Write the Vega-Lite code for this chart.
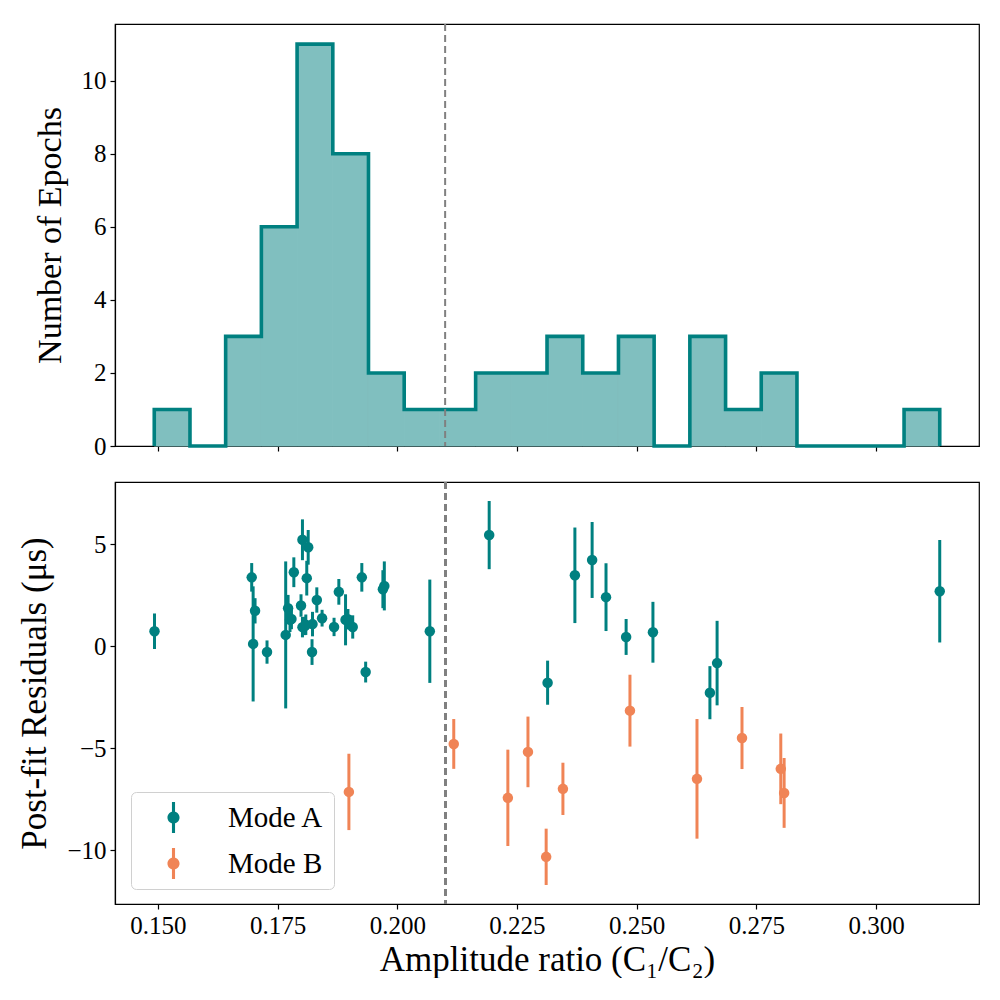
{
  "$schema": "https://vega.github.io/schema/vega-lite/v6.json",
  "padding": {"left": 17, "top": 22, "right": 0, "bottom": 0},
  "background": "white",
  "spacing": 20,
  "config": {
    "font": "Liberation Serif",
    "view": {"stroke": "black", "strokeWidth": 1.2},
    "axis": {
      "grid": false,
      "labelFont": "Liberation Serif", "labelFontSize": 25, "labelColor": "black",
      "titleFont": "Liberation Serif", "titleFontSize": 34, "titleFontWeight": "normal", "titleColor": "black",
      "tickColor": "black", "tickSize": 5, "tickWidth": 1.2,
      "domainColor": "black", "domainWidth": 1.2, "labelPadding": 4
    },
    "legend": {
      "orient": "none", "legendX": 16, "legendY": 768,
      "fillColor": "white", "strokeColor": "#d0d0d0", "cornerRadius": 5,
      "padding": 10, "rowPadding": 15, "symbolOffset": 17, "labelOffset": 39,
      "labelFont": "Liberation Serif", "labelFontSize": 29, "labelColor": "black",
      "symbolSize": 961, "symbolStrokeWidth": 0, "symbolOpacity": 1,
      "symbolType": "M-0.1,-1 L0.1,-1 L0.1,1 L-0.1,1 Z M0.39,0 A0.39,0.39 0 1 1 -0.39,0 A0.39,0.39 0 1 1 0.39,0 Z"
    }
  },
  "datasets": {
    "bins": [
      {"start": 0.14925, "end": 0.15671, "count": 1},
      {"start": 0.15671, "end": 0.16416, "count": 0},
      {"start": 0.16416, "end": 0.17162, "count": 3},
      {"start": 0.17162, "end": 0.17908, "count": 6},
      {"start": 0.17908, "end": 0.18654, "count": 11},
      {"start": 0.18654, "end": 0.19399, "count": 8},
      {"start": 0.19399, "end": 0.20145, "count": 2},
      {"start": 0.20145, "end": 0.20891, "count": 1},
      {"start": 0.20891, "end": 0.21637, "count": 1},
      {"start": 0.21637, "end": 0.22382, "count": 2},
      {"start": 0.22382, "end": 0.23128, "count": 2},
      {"start": 0.23128, "end": 0.23874, "count": 3},
      {"start": 0.23874, "end": 0.24620, "count": 2},
      {"start": 0.24620, "end": 0.25365, "count": 3},
      {"start": 0.25365, "end": 0.26111, "count": 0},
      {"start": 0.26111, "end": 0.26857, "count": 3},
      {"start": 0.26857, "end": 0.27602, "count": 1},
      {"start": 0.27602, "end": 0.28348, "count": 2},
      {"start": 0.28348, "end": 0.29094, "count": 0},
      {"start": 0.29094, "end": 0.29839, "count": 0},
      {"start": 0.29839, "end": 0.30585, "count": 0},
      {"start": 0.30585, "end": 0.31330, "count": 1}
    ],
    "outline": [
      {"i": 0, "edge": 0.14925, "count": 0},
      {"i": 1, "edge": 0.14925, "count": 1},
      {"i": 2, "edge": 0.15671, "count": 0},
      {"i": 3, "edge": 0.16416, "count": 3},
      {"i": 4, "edge": 0.17162, "count": 6},
      {"i": 5, "edge": 0.17908, "count": 11},
      {"i": 6, "edge": 0.18654, "count": 8},
      {"i": 7, "edge": 0.19399, "count": 2},
      {"i": 8, "edge": 0.20145, "count": 1},
      {"i": 9, "edge": 0.20891, "count": 1},
      {"i": 10, "edge": 0.21637, "count": 2},
      {"i": 11, "edge": 0.22382, "count": 2},
      {"i": 12, "edge": 0.23128, "count": 3},
      {"i": 13, "edge": 0.23874, "count": 2},
      {"i": 14, "edge": 0.24620, "count": 3},
      {"i": 15, "edge": 0.25365, "count": 0},
      {"i": 16, "edge": 0.26111, "count": 3},
      {"i": 17, "edge": 0.26857, "count": 1},
      {"i": 18, "edge": 0.27602, "count": 2},
      {"i": 19, "edge": 0.28348, "count": 0},
      {"i": 20, "edge": 0.29094, "count": 0},
      {"i": 21, "edge": 0.29839, "count": 0},
      {"i": 22, "edge": 0.30585, "count": 1},
      {"i": 23, "edge": 0.31330, "count": 1},
      {"i": 24, "edge": 0.31330, "count": 0}
    ],
    "epochs": [
      {"mode": "Mode A", "ratio": 0.1493, "resid": 0.73, "err": 0.87},
      {"mode": "Mode A", "ratio": 0.1696, "resid": 3.37, "err": 0.70},
      {"mode": "Mode A", "ratio": 0.1703, "resid": 1.73, "err": 0.62},
      {"mode": "Mode A", "ratio": 0.1699, "resid": 0.11, "err": 2.82},
      {"mode": "Mode A", "ratio": 0.1728, "resid": -0.29, "err": 0.57},
      {"mode": "Mode A", "ratio": 0.1767, "resid": 0.55, "err": 3.60},
      {"mode": "Mode A", "ratio": 0.1772, "resid": 1.86, "err": 0.65},
      {"mode": "Mode A", "ratio": 0.1776, "resid": 1.29, "err": 0.60},
      {"mode": "Mode A", "ratio": 0.1779, "resid": 1.33, "err": 0.50},
      {"mode": "Mode A", "ratio": 0.1784, "resid": 3.62, "err": 0.73},
      {"mode": "Mode A", "ratio": 0.1799, "resid": 1.99, "err": 0.55},
      {"mode": "Mode A", "ratio": 0.1802, "resid": 5.21, "err": 1.00},
      {"mode": "Mode A", "ratio": 0.1814, "resid": 4.84, "err": 0.85},
      {"mode": "Mode A", "ratio": 0.1811, "resid": 3.33, "err": 0.85},
      {"mode": "Mode A", "ratio": 0.1802, "resid": 0.93, "err": 0.50},
      {"mode": "Mode A", "ratio": 0.1807, "resid": 0.99, "err": 0.45},
      {"mode": "Mode A", "ratio": 0.1809, "resid": 1.05, "err": 0.50},
      {"mode": "Mode A", "ratio": 0.1823, "resid": 1.08, "err": 0.60},
      {"mode": "Mode A", "ratio": 0.1822, "resid": -0.29, "err": 0.63},
      {"mode": "Mode A", "ratio": 0.1832, "resid": 2.26, "err": 0.62},
      {"mode": "Mode A", "ratio": 0.1843, "resid": 1.37, "err": 0.41},
      {"mode": "Mode A", "ratio": 0.1868, "resid": 0.94, "err": 0.45},
      {"mode": "Mode A", "ratio": 0.1878, "resid": 2.66, "err": 0.63},
      {"mode": "Mode A", "ratio": 0.1892, "resid": 1.29, "err": 1.25},
      {"mode": "Mode A", "ratio": 0.1897, "resid": 1.32, "err": 0.50},
      {"mode": "Mode A", "ratio": 0.1907, "resid": 0.94, "err": 0.57},
      {"mode": "Mode A", "ratio": 0.1926, "resid": 3.37, "err": 0.70},
      {"mode": "Mode A", "ratio": 0.1934, "resid": -1.27, "err": 0.51},
      {"mode": "Mode A", "ratio": 0.1970, "resid": 2.79, "err": 0.93},
      {"mode": "Mode A", "ratio": 0.1973, "resid": 2.95, "err": 1.20},
      {"mode": "Mode A", "ratio": 0.2068, "resid": 0.73, "err": 2.53},
      {"mode": "Mode A", "ratio": 0.2192, "resid": 5.44, "err": 1.67},
      {"mode": "Mode A", "ratio": 0.2314, "resid": -1.79, "err": 1.08},
      {"mode": "Mode A", "ratio": 0.2371, "resid": 3.47, "err": 2.34},
      {"mode": "Mode A", "ratio": 0.2407, "resid": 4.22, "err": 1.86},
      {"mode": "Mode A", "ratio": 0.2436, "resid": 2.40, "err": 1.66},
      {"mode": "Mode A", "ratio": 0.2478, "resid": 0.45, "err": 0.88},
      {"mode": "Mode A", "ratio": 0.2534, "resid": 0.68, "err": 1.49},
      {"mode": "Mode A", "ratio": 0.2653, "resid": -2.28, "err": 1.30},
      {"mode": "Mode A", "ratio": 0.2668, "resid": -0.83, "err": 2.07},
      {"mode": "Mode A", "ratio": 0.3133, "resid": 2.69, "err": 2.51},
      {"mode": "Mode B", "ratio": 0.1899, "resid": -7.14, "err": 1.87},
      {"mode": "Mode B", "ratio": 0.2118, "resid": -4.79, "err": 1.22},
      {"mode": "Mode B", "ratio": 0.2231, "resid": -7.43, "err": 2.36},
      {"mode": "Mode B", "ratio": 0.2273, "resid": -5.18, "err": 1.73},
      {"mode": "Mode B", "ratio": 0.2311, "resid": -10.32, "err": 1.38},
      {"mode": "Mode B", "ratio": 0.2346, "resid": -6.99, "err": 1.28},
      {"mode": "Mode B", "ratio": 0.2486, "resid": -3.16, "err": 1.76},
      {"mode": "Mode B", "ratio": 0.2626, "resid": -6.50, "err": 2.93},
      {"mode": "Mode B", "ratio": 0.2720, "resid": -4.50, "err": 1.52},
      {"mode": "Mode B", "ratio": 0.2801, "resid": -6.01, "err": 1.73},
      {"mode": "Mode B", "ratio": 0.2808, "resid": -7.19, "err": 1.71}
    ]
  },
  "vconcat": [
    {
      "width": 864, "height": 422,
      "layer": [
        {
          "data": {"name": "bins"},
          "mark": {"type": "rect", "color": "#80bfbf", "stroke": "#80bfbf", "strokeWidth": 1},
          "encoding": {
            "x": {"field": "start", "type": "quantitative",
                  "scale": {"domain": [0.14105, 0.3215], "nice": false, "zero": false},
                  "axis": {"values": [0.15, 0.175, 0.2, 0.225, 0.25, 0.275, 0.3], "labels": false, "title": null}},
            "x2": {"field": "end"},
            "y": {"field": "count", "type": "quantitative",
                  "scale": {"domain": [0, 11.55], "nice": false},
                  "axis": {"values": [0, 2, 4, 6, 8, 10], "title": "Number of Epochs", "titlePadding": 14}},
            "y2": {"datum": 0}
          }
        },
        {
          "data": {"name": "outline"},
          "mark": {"type": "line", "interpolate": "step-after", "color": "#008080", "strokeWidth": 3.6, "strokeJoin": "miter"},
          "encoding": {
            "x": {"field": "edge", "type": "quantitative"},
            "y": {"field": "count", "type": "quantitative"},
            "order": {"field": "i", "type": "quantitative"}
          }
        },
        {
          "data": {"values": [{"split": 0.21}]},
          "mark": {"type": "rule", "color": "#808080", "strokeDash": [7, 4], "strokeWidth": 2},
          "encoding": {"x": {"field": "split", "type": "quantitative"}}
        }
      ]
    },
    {
      "width": 864, "height": 422,
      "data": {"name": "epochs"},
      "encoding": {
        "x": {"field": "ratio", "type": "quantitative",
              "scale": {"domain": [0.14105, 0.3215], "nice": false, "zero": false},
              "axis": {"values": [0.15, 0.175, 0.2, 0.225, 0.25, 0.275, 0.3], "format": ".3f", "title": "Amplitude ratio (C₁/C₂)", "titlePadding": 4, "titleFontSize": 35}},
        "y": {"field": "resid", "type": "quantitative",
              "scale": {"domain": [-12.63, 8.04], "nice": false, "zero": false},
              "axis": {"values": [-10, -5, 0, 5], "title": "Post-fit Residuals (μs)", "titlePadding": 14, "titleFontSize": 35}},
        "color": {"field": "mode", "type": "nominal",
                  "scale": {"domain": ["Mode A", "Mode B"], "range": ["#008080", "#f08456"]},
                  "legend": {"title": null}}
      },
      "layer": [
        {
          "mark": {"type": "rule", "color": "#808080", "strokeDash": [7, 4], "strokeWidth": 2},
          "encoding": {"x": {"datum": 0.21}, "y": null, "color": null}
        },
        {
          "mark": {"type": "errorbar", "thickness": 3},
          "encoding": {"yError": {"field": "err"}}
        },
        {
          "mark": {"type": "circle", "size": 110, "opacity": 1}
        }
      ]
    }
  ]
}
